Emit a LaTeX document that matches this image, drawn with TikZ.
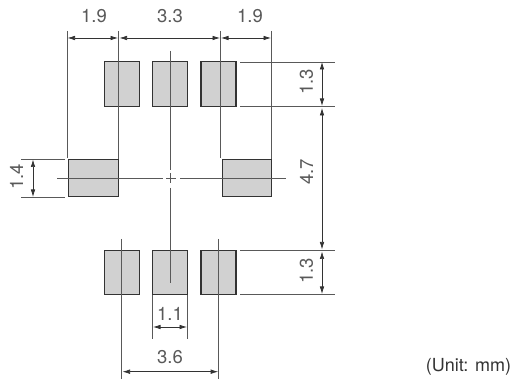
\documentclass[tikz,border=0pt]{standalone}
\usepackage{fontspec}
\setmainfont{TeX Gyre Heros}
\usetikzlibrary{arrows.meta}

\begin{document}
\begin{tikzpicture}[x=1pt,y=-1pt,line cap=butt]
\tikzstyle{pad}=[rectangle,draw=black!80,fill=black!18,line width=1.1pt,inner sep=0pt,outer sep=0pt]
\tikzstyle{ext}=[draw=black!65,line width=0.8pt]
\tikzstyle{dim}=[draw=black!80,line width=0.7pt,{Latex[length=7.5pt,width=4.6pt]}-{Latex[length=7.5pt,width=4.6pt]}]
\tikzstyle{val}=[font=\fontsize{18.5}{18.5}\selectfont,text=black!65,inner sep=0pt]
\useasboundingbox (0,0) rectangle (512,379);
% pads
\node[pad,minimum width=35pt,minimum height=44.5pt] (tl) at (121.7,84.2) {};
\node[pad,minimum width=35pt,minimum height=44.5pt] (tm) at (170,84.2) {};
\node[pad,minimum width=35pt,minimum height=44.5pt] (tr) at (218.5,84.2) {};
\node[pad,minimum width=49.5pt,minimum height=37.5pt] (ml) at (93.5,178.2) {};
\node[pad,minimum width=49.5pt,minimum height=37.5pt] (mr) at (247,178.2) {};
\node[pad,minimum width=35pt,minimum height=44pt] (bl) at (121.7,272.5) {};
\node[pad,minimum width=35pt,minimum height=44pt] (bm) at (170,272.5) {};
\node[pad,minimum width=35pt,minimum height=44pt] (br) at (218.5,272.5) {};
% extension line ends
\coordinate (a1) at (67,31); \coordinate (a2) at (67,158);
\coordinate (b1) at (118.5,31); \coordinate (b2) at (118.5,159);
\coordinate (c1) at (220.5,31); \coordinate (c2) at (220.5,158);
\coordinate (d1) at (271,31); \coordinate (d2) at (271,159);
\coordinate (e1) at (240,62); \coordinate (e2) at (335,62);
\coordinate (f1) at (240,106.5); \coordinate (f2) at (335,106.5);
\coordinate (g1) at (240,250.5); \coordinate (g2) at (335,250.5);
\coordinate (h1) at (240,294); \coordinate (h2) at (335,294);
\coordinate (i1) at (21,159.5); \coordinate (i2) at (65,159.5);
\coordinate (j1) at (21,197); \coordinate (j2) at (65,197);
\coordinate (k1) at (152.5,295); \coordinate (k2) at (152.5,339);
\coordinate (l1) at (187.5,295); \coordinate (l2) at (187.5,339);
\coordinate (m1) at (121.7,239); \coordinate (m2) at (121.7,379);
\coordinate (n1) at (218.7,239); \coordinate (n2) at (218.7,379);
\foreach \p in {a,b,c,d,e,f,g,h,i,j,k,l,m,n}
  \draw[ext] (\p1) -- (\p2);
% centre lines
\coordinate (cl1) at (57,178); \coordinate (cl2) at (163,178);
\coordinate (cl3) at (180,178); \coordinate (cl4) at (286,178);
\coordinate (cl5) at (170,51); \coordinate (cl6) at (170,170);
\coordinate (cl7) at (170,188); \coordinate (cl8) at (170,283);
\coordinate (cx1) at (166,178); \coordinate (cx2) at (176,178);
\coordinate (cy1) at (170,173); \coordinate (cy2) at (170,183);
\draw[ext] (cl1) -- (cl2);
\draw[ext] (cl3) -- (cl4);
\draw[ext] (cl5) -- (cl6);
\draw[ext] (cl7) -- (cl8);
\draw[ext] (cx1) -- (cx2);
\draw[ext] (cy1) -- (cy2);
% dimension lines
\coordinate (p1) at (67.5,38); \coordinate (p2) at (118,38);
\coordinate (p3) at (119.5,38); \coordinate (p4) at (220,38);
\coordinate (p5) at (221,38); \coordinate (p6) at (271,38);
\coordinate (q1) at (322,62); \coordinate (q2) at (322,106);
\coordinate (q3) at (322,108); \coordinate (q4) at (322,249.5);
\coordinate (q5) at (322,251.5); \coordinate (q6) at (322,294);
\coordinate (s1) at (33,159.5); \coordinate (s2) at (33,197);
\coordinate (t1) at (153,327); \coordinate (t2) at (187,327);
\coordinate (u1) at (122.5,371.7); \coordinate (u2) at (218.2,371.7);
\draw[dim] (p1) -- (p2);
\draw[dim] (p3) -- (p4);
\draw[dim] (p5) -- (p6);
\draw[dim] (q1) -- (q2);
\draw[dim] (q3) -- (q4);
\draw[dim] (q5) -- (q6);
\draw[dim] (s1) -- (s2);
\draw[dim] (t1) -- (t2);
\draw[dim] (u1) -- (u2);
% values
\node[val] (w1) at (94,16.5) {1.9};
\node[val] (w2) at (170,16.5) {3.3};
\node[val] (w3) at (250,16.5) {1.9};
\node[val,rotate=90] (w4) at (306.5,82) {1.3};
\node[val,rotate=90] (w5) at (306.5,172) {4.7};
\node[val,rotate=90] (w6) at (306.5,271) {1.3};
\node[val,rotate=90] (w7) at (16.5,177) {1.4};
\node[val] (w8) at (170,314) {1.1};
\node[val] (w9) at (170,357.5) {3.6};
\node[font=\fontsize{18}{18}\selectfont,text=black!80,inner sep=0pt] (unit) at (468.5,366.5) {(Unit: mm)};
\end{tikzpicture}
\end{document}
